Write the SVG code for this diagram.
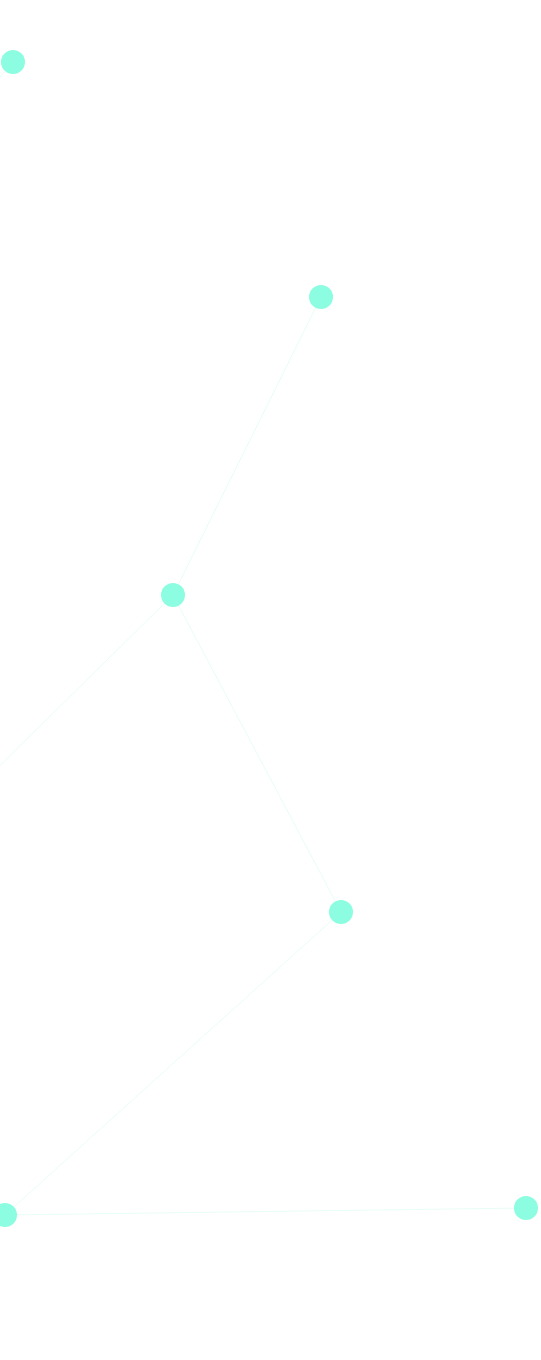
<svg xmlns="http://www.w3.org/2000/svg" width="541" height="1360" viewBox="0 0 541 1360">
<style>
.n{fill:#8cfde0}
.e{stroke:#e8fdf7;stroke-width:1;fill:none}
</style>
<rect width="541" height="1360" fill="#ffffff"/>
<g id="connectors">
<line class="e" x1="13" y1="62" x2="-20" y2="100"/>
<line class="e" x1="321" y1="297" x2="173" y2="595"/>
<line class="e" x1="173" y1="595" x2="-30" y2="795"/>
<line class="e" x1="173" y1="595" x2="341" y2="912"/>
<line class="e" x1="341" y1="912" x2="5" y2="1215"/>
<line class="e" x1="5" y1="1215" x2="526" y2="1208"/>
</g>
<g id="node1"><circle class="n" cx="13" cy="62" r="12"/></g>
<g id="node2"><circle class="n" cx="321" cy="297" r="12"/></g>
<g id="node3"><circle class="n" cx="173" cy="595" r="12"/></g>
<g id="node4"><circle class="n" cx="341" cy="912" r="12"/></g>
<g id="node5"><circle class="n" cx="5" cy="1215" r="12"/></g>
<g id="node6"><circle class="n" cx="526" cy="1208" r="12"/></g>
</svg>
